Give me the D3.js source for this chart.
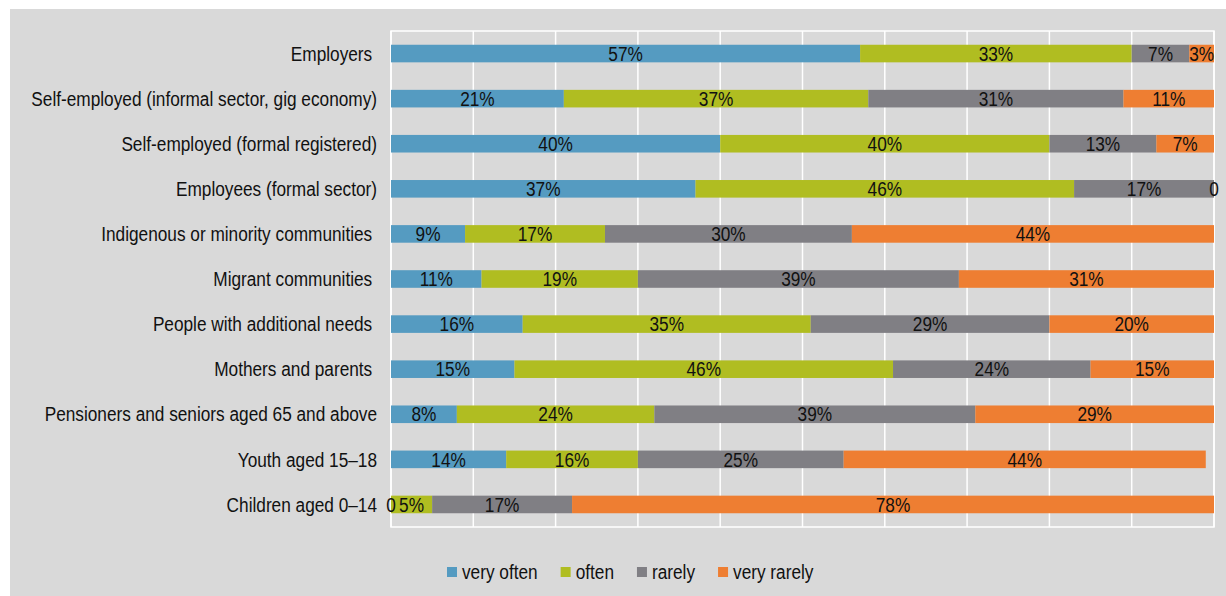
<!DOCTYPE html>
<html>
<head>
<meta charset="utf-8">
<script src="https://cdn.jsdelivr.net/npm/d3@7"></script>
<style>
  html, body { margin: 0; padding: 0; background: #ffffff; }
  svg text { font-family: "Liberation Sans", Arial, sans-serif; white-space: pre; }
</style>
</head>
<body>
<svg id="chart" width="1226" height="596"></svg>
<script>
// Groups, top to bottom
const categories = [
  "Employers ",
  "Self-employed (informal sector, gig economy)",
  "Self-employed (formal registered)",
  "Employees (formal sector)",
  "Indigenous or minority communities ",
  "Migrant communities ",
  "People with additional needs ",
  "Mothers and parents ",
  "Pensioners and seniors aged 65 and above",
  "Youth aged 15–18",
  "Children aged 0–14"
];

// Share of answers (%) per frequency, one array per series
const veryOften  = [57, 21, 40, 37,  9, 11, 16, 15,  8, 14,  0];
const often      = [33, 37, 40, 46, 17, 19, 35, 46, 24, 16,  5];
const rarely     = [ 7, 31, 13, 17, 30, 39, 29, 24, 39, 25, 17];
const veryRarely = [ 3, 11,  7,  0, 44, 31, 20, 15, 29, 44, 78];

const seriesNames  = ["very often", "often", "rarely", "very rarely"];
const seriesColors = ["#559bc1", "#b0bd21", "#807f84", "#ee7e32"];
const xTicks = [0, 10, 20, 30, 40, 50, 60, 70, 80, 90, 100];

const rows = categories.map((c, i) => ({
  category: c,
  "very often": veryOften[i],
  "often": often[i],
  "rarely": rarely[i],
  "very rarely": veryRarely[i]
}));

// Condensed lettering: regular sans squeezed horizontally
const SQUEEZE = 0.862;
function narrowText(parent, px, py, anchor, str) {
  return parent.append("text")
    .attr("transform", `translate(${px},${py}) scale(${SQUEEZE},1)`)
    .attr("dy", "0.36em")
    .attr("text-anchor", anchor)
    .attr("font-size", 20)
    .attr("fill", "#111111")
    .text(str);
}

const svg = d3.select("#chart");

// Panel background
svg.append("rect")
  .attr("x", 10).attr("y", 9)
  .attr("width", 1216).attr("height", 587)
  .attr("fill", "#d9d9d9");

const plot = { left: 391, right: 1214, top: 31, bottom: 527 };

const x = d3.scaleLinear().domain([0, 100]).range([plot.left, plot.right]);
const y = d3.scaleBand()
  .domain(categories)
  .range([plot.top, plot.bottom])
  .paddingInner(0.61)
  .paddingOuter(0.305);

// Vertical gridlines
svg.append("g")
  .selectAll("line")
  .data(xTicks)
  .join("line")
  .attr("x1", d => x(d)).attr("x2", d => x(d))
  .attr("y1", plot.top).attr("y2", plot.bottom)
  .attr("stroke", "#ffffff")
  .attr("stroke-width", 1.5);

// Plot border
svg.append("rect")
  .attr("x", plot.left).attr("y", plot.top)
  .attr("width", plot.right - plot.left).attr("height", plot.bottom - plot.top)
  .attr("fill", "none")
  .attr("stroke", "#ffffff")
  .attr("stroke-width", 1.5);

const stack = d3.stack().keys(seriesNames)(rows);

const layers = svg.append("g")
  .selectAll("g")
  .data(stack)
  .join("g")
  .attr("fill", (d, i) => seriesColors[i]);

layers.selectAll("rect")
  .data(d => d)
  .join("rect")
  .attr("x", d => x(d[0]))
  .attr("y", d => y(d.data.category))
  .attr("width", d => x(d[1]) - x(d[0]))
  .attr("height", y.bandwidth());

// Value labels
const labels = svg.append("g");
stack.forEach(layer => {
  layer.forEach(d => {
    const v = d[1] - d[0];
    narrowText(labels,
      x((d[0] + d[1]) / 2),
      y(d.data.category) + y.bandwidth() / 2,
      "middle",
      v === 0 ? "0" : v + "%");
  });
});

// Category labels
const catLabels = svg.append("g");
categories.forEach(c => {
  narrowText(catLabels, 377, y(c) + y.bandwidth() / 2, "end", c);
});

// Legend
const legend = svg.append("g");
let lx = 447;
const ly = 572;
seriesNames.forEach((name, i) => {
  legend.append("rect")
    .attr("x", lx).attr("y", ly - 5)
    .attr("width", 10).attr("height", 10)
    .attr("fill", seriesColors[i]);
  const t = narrowText(legend, lx + 15, ly, "start", name);
  lx += 15 + t.node().getComputedTextLength() * SQUEEZE + 23;
});
</script>
</body>
</html>
